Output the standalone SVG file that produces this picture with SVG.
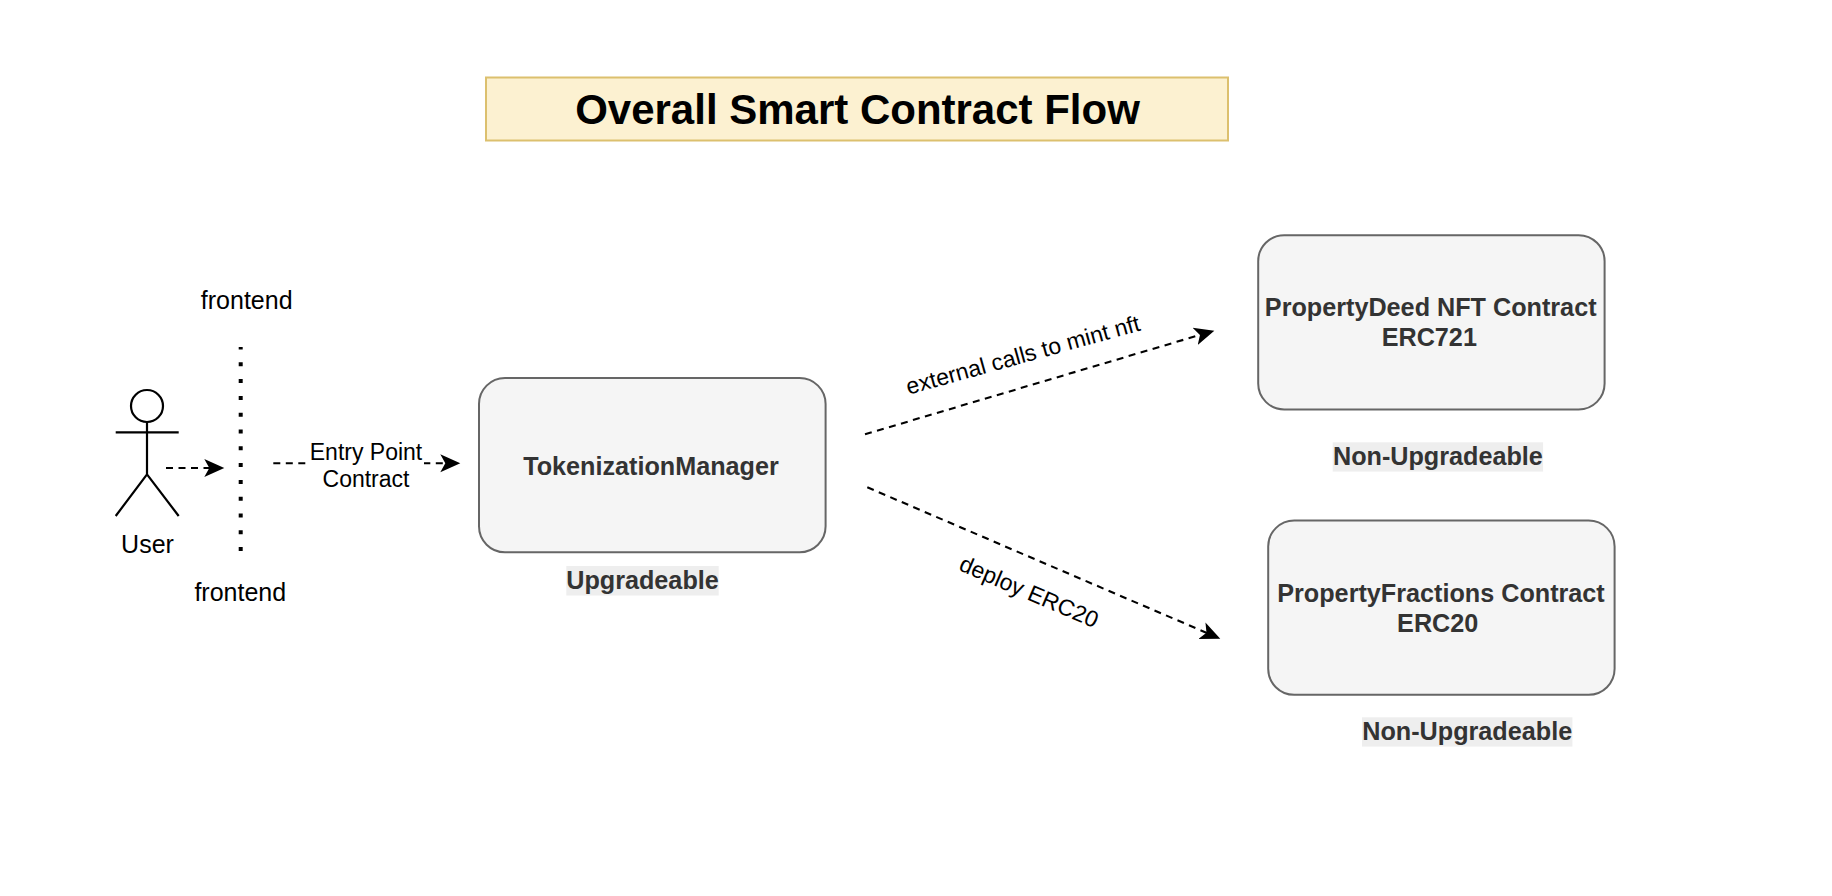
<svg xmlns="http://www.w3.org/2000/svg" width="1832" height="896" viewBox="0 0 1832 896">
<style>
text{font-family:"Liberation Sans",Arial,sans-serif;text-anchor:middle}
.n{font-size:25px;fill:#000}
.e{font-size:23px;fill:#000}
.b{font-size:25.2px;font-weight:700;fill:#333}
.box{fill:#f5f5f5;stroke:#666;stroke-width:2}
.tag{fill:#eee}
.c{fill:none;stroke:#000;stroke-width:2.1;stroke-dasharray:7 5.5;marker-end:url(#a)}
.s{fill:none;stroke:#000;stroke-width:2.2}
</style>
<defs>
<marker id="a" markerUnits="userSpaceOnUse" markerWidth="24" markerHeight="24" refX="16" refY="12" orient="auto">
<path d="M20 12L0 3L5 12L0 21Z" fill="#000"/>
</marker>
</defs>
<rect width="1832" height="896" fill="#fff"/>
<g id="title">
<rect x="486" y="77.5" width="742" height="63" fill="#fcf1d1" stroke="#dcc06e" stroke-width="2"/>
<text transform="translate(857.5 124) scale(1 1.03)" font-size="42" font-weight="700" fill="#000">Overall Smart Contract Flow</text>
</g>
<g id="connectors">
<line class="c" x1="166" y1="468" x2="220.3" y2="468"/>
<line class="c" x1="273.3" y1="463.3" x2="456.3" y2="463.3"/>
<line class="c" x1="865" y1="434.3" x2="1210.5" y2="331.8"/>
<line class="c" x1="867.3" y1="487.3" x2="1216.6" y2="637.1"/>
<line x1="240.7" y1="347" x2="240.7" y2="551" fill="none" stroke="#000" stroke-width="4" stroke-dasharray="4 12.8" stroke-dashoffset="1.5"/>
</g>
<g id="user">
<circle class="s" cx="147" cy="406" r="16"/>
<path class="s" d="M147 422V474.3M115.7 432.3H178.7M147 474.3L115.7 516M147 474.3L178.7 516"/>
<text class="n" x="147.5" y="552.7">User</text>
</g>
<g id="frontend-top"><text class="n" x="246.7" y="309">frontend</text></g>
<g id="frontend-bottom"><text class="n" x="240.3" y="600.7">frontend</text></g>
<g id="entry-label">
<rect x="306.7" y="440" width="117.3" height="50" fill="#fff"/>
<text class="e" x="366" y="460">Entry Point</text>
<text class="e" x="366" y="486.7">Contract</text>
</g>
<g id="tokenization-manager">
<rect class="box" x="479" y="378" width="346.6" height="174.3" rx="26" ry="26"/>
<text class="b" x="651" y="475">TokenizationManager</text>
</g>
<g id="upgradeable">
<rect class="tag" x="566.3" y="566" width="152.4" height="29.5"/>
<text class="b" x="642.5" y="589">Upgradeable</text>
</g>
<g id="property-deed">
<rect class="box" x="1258.2" y="235.2" width="346.4" height="174.3" rx="26" ry="26"/>
<text class="b" x="1430.7" y="316">PropertyDeed NFT Contract</text>
<text class="b" x="1429.3" y="345.7">ERC721</text>
</g>
<g id="non-upgradeable-1">
<rect class="tag" x="1332.7" y="442.3" width="210.4" height="29.3"/>
<text class="b" x="1437.9" y="465">Non-Upgradeable</text>
</g>
<g id="property-fractions">
<rect class="box" x="1268.2" y="520.5" width="346.4" height="174.3" rx="26" ry="26"/>
<text class="b" x="1441" y="601.7">PropertyFractions Contract</text>
<text class="b" x="1437.7" y="631.7">ERC20</text>
</g>
<g id="non-upgradeable-2">
<rect class="tag" x="1362" y="717.3" width="210.4" height="29.3"/>
<text class="b" x="1467.2" y="740">Non-Upgradeable</text>
</g>
<g id="label-mint"><text class="e" transform="translate(1025 362.5) rotate(-15.5)">external calls to mint nft</text></g>
<g id="label-deploy"><text class="e" transform="translate(1026 599) rotate(23.2)">deploy ERC20</text></g>
</svg>
